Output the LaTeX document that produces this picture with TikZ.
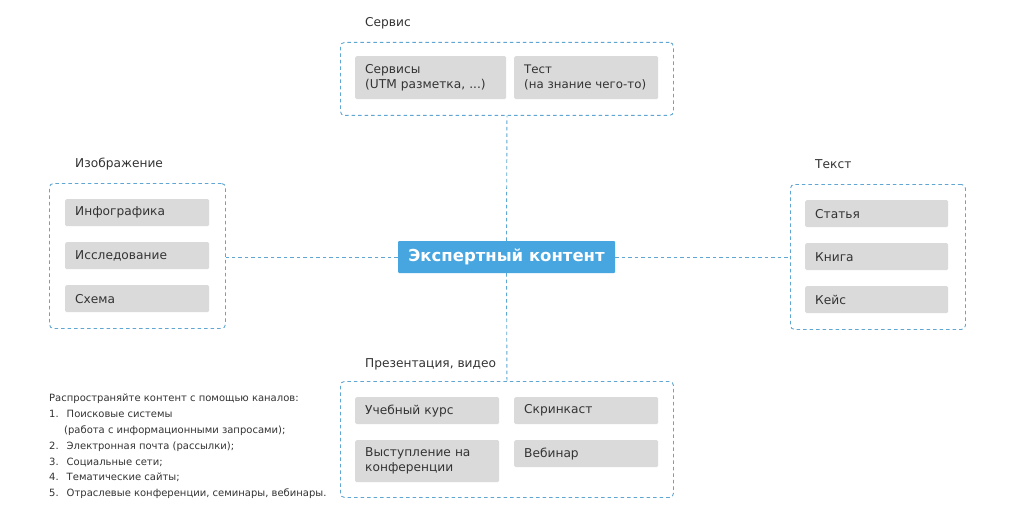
\documentclass[tikz,border=0pt]{standalone}
\usepackage{fontspec}
\setmainfont{DejaVu Sans}
\definecolor{dashblue}{HTML}{5FA6D2}
\definecolor{boxgray}{HTML}{DADADB}
\definecolor{txtgray}{HTML}{333333}
\definecolor{mainblue}{HTML}{47A5DF}
\tikzset{
  grp/.style={draw=dashblue, line width=0.9pt, dash pattern=on 3.5pt off 3pt, rounded corners=4pt, anchor=north west, inner sep=0pt},
  item/.style={fill=boxgray, rounded corners=1.5pt, anchor=north west, inner xsep=10pt, inner ysep=0pt, align=left, text=txtgray, font=\fontsize{12.2}{15}\selectfont},
  grplabel/.style={anchor=base west, inner sep=0pt, text=txtgray, font=\fontsize{12.2}{13}\selectfont},
  conn/.style={draw=dashblue, line width=0.9pt, dash pattern=on 3.5pt off 3pt},
  mainbox/.style={fill=mainblue, rounded corners=1pt, text=white, font=\fontsize{16.5}{18}\selectfont\bfseries, minimum width=217pt, minimum height=32pt, inner sep=0pt}
}
\begin{document}
\begin{tikzpicture}[x=1pt,y=-1pt]
\useasboundingbox (0,0) rectangle (1024,524);
\fill[white] (0,0) rectangle (1024,524);

% center
\node[mainbox] (center) at (506.5,257) {Экспертный контент};

% top group
\node[grp, minimum width=333pt, minimum height=73pt] (top) at (340,42) {};
\node[grplabel] (toplbl) at (365,27) {Сервис};
\node[item, text width=131pt, minimum height=43pt] (serv) at (355,56) {Сервисы\\(UTM разметка, ...)};
\node[item, text width=124pt, minimum height=43pt, font=\fontsize{11.8}{15}\selectfont] (test) at (514,56) {Тест\\\mbox{(на знание чего-то)}};

% left group
\node[grp, minimum width=176pt, minimum height=145pt] (left) at (49,183) {};
\node[grplabel] (leftlbl) at (75,167) {Изображение};
\node[item, text width=124pt, minimum height=27pt] (info) at (65,199) {Инфографика};
\node[item, text width=124pt, minimum height=27pt] (issl) at (65,242) {Исследование};
\node[item, text width=124pt, minimum height=27pt] (shema) at (65,285) {Схема};

% right group
\node[grp, minimum width=175pt, minimum height=145pt] (right) at (790,184) {};
\node[grplabel] (rightlbl) at (815,168) {Текст};
\node[item, text width=123pt, minimum height=27pt] (stat) at (805,200) {Статья};
\node[item, text width=123pt, minimum height=27pt] (kniga) at (805,243) {Книга};
\node[item, text width=123pt, minimum height=27pt] (keis) at (805,286) {Кейс};

% bottom group
\node[grp, minimum width=333pt, minimum height=116pt] (bot) at (340,381) {};
\node[grplabel] (botlbl) at (365,367) {Презентация, видео};
\node[item, text width=124pt, minimum height=27pt] (kurs) at (355,397) {Учебный курс};
\node[item, text width=124pt, minimum height=27pt] (skrin) at (514,397) {Скринкаст};
\node[item, text width=124pt, minimum height=42pt] (vyst) at (355,440) {Выступление на\\конференции};
\node[item, text width=124pt, minimum height=27pt] (vebi) at (514,440) {Вебинар};

% connectors
\draw[conn] (center.north) -- (top.south);
\draw[conn] (center.south) -- (bot.north);
\draw[conn] (center.west) -- (center.west -| left.east);
\draw[conn] (center.east) -- (center.east -| right.west);

% note
\node[anchor=north west, inner sep=0pt, align=left, text=txtgray, font=\fontsize{10}{15.8}\selectfont] (note) at (49,394) {%
Распространяйте контент с помощью каналов:\\
1.\hspace{8pt}Поисковые системы\\
\hspace{15pt}(работа с информационными запросами);\\
2.\hspace{8pt}Электронная почта (рассылки);\\
3.\hspace{8pt}Социальные сети;\\
4.\hspace{8pt}Тематические сайты;\\
5.\hspace{8pt}Отраслевые конференции, семинары, вебинары.};
\end{tikzpicture}
\end{document}
